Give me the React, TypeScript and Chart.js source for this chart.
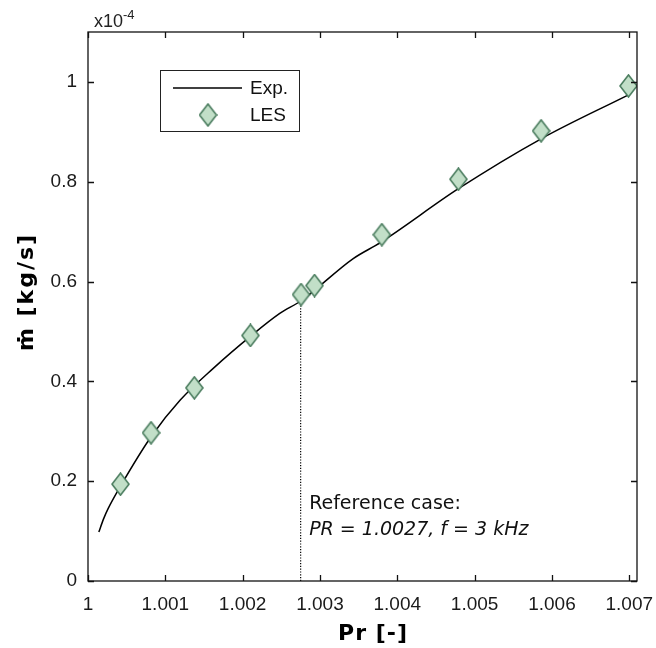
import React, { useEffect, useRef } from "react";
import { Chart, registerables } from "chart.js";

Chart.register(...registerables);

// Experimental curve (Pr [-], mdot [x1e-4 kg/s])
const expPr = [1.00014, 1.0002, 1.00026, 1.00042, 1.00082, 1.00119, 1.00162, 1.0021, 1.00248, 1.00276, 1.00343, 1.00378, 1.00479, 1.00586, 1.00699];
const expMdot = [0.098, 0.124, 0.145, 0.19, 0.29, 0.362, 0.426, 0.49, 0.536, 0.562, 0.646, 0.678, 0.786, 0.886, 0.974];

// LES points
const lesPr = [1.00042, 1.000815, 1.001375, 1.0021, 1.002755, 1.00293, 1.0038, 1.00479, 1.00586, 1.00699];
const lesMdot = [0.194, 0.297, 0.387, 0.492, 0.574, 0.592, 0.694, 0.805, 0.902, 0.992];

// Reference case marker line
const refPr = [1.00275, 1.00275];
const refMdot = [0, 0.56];

// Tick values
const xTickValues = [1, 1.001, 1.002, 1.003, 1.004, 1.005, 1.006, 1.007];
const yTickValues = [0, 0.2, 0.4, 0.6, 0.8, 1.0];

const X_MIN = 1;
const X_MAX = 1.0071;
const Y_MIN = 0;
const Y_MAX = 1.1;

const TICK_FONT = "'Liberation Sans', Arial, sans-serif";
const TEXT_FONT = "'DejaVu Sans', Verdana, sans-serif";

function makeDiamond(): HTMLCanvasElement {
  const c = document.createElement("canvas");
  c.width = 19;
  c.height = 24;
  const g = c.getContext("2d")!;
  g.beginPath();
  g.moveTo(9.5, 1);
  g.lineTo(18, 12);
  g.lineTo(9.5, 23);
  g.lineTo(1, 12);
  g.closePath();
  g.fillStyle = "#c2dfc8";
  g.fill();
  g.lineWidth = 1.6;
  g.strokeStyle = "#4b7d5f";
  g.stroke();
  return c;
}

export default function App() {
  const ref = useRef<HTMLCanvasElement | null>(null);

  useEffect(() => {
    if (!ref.current) return;
    const diamond = makeDiamond();

    const decor = {
      id: "decor",
      afterDatasetsDraw(chart: any) {
        const { ctx, chartArea } = chart;
        const xs = chart.scales.x;
        const ys = chart.scales.y;
        const { left, right, top, bottom } = chartArea;
        ctx.save();
        // box
        ctx.strokeStyle = "#111";
        ctx.lineWidth = 1.3;
        ctx.strokeRect(left, top, right - left, bottom - top);
        // inward ticks
        const tl = 6;
        ctx.beginPath();
        xs.ticks.forEach((t: any) => {
          const px = Math.round(xs.getPixelForValue(t.value)) + 0.5;
          ctx.moveTo(px, bottom);
          ctx.lineTo(px, bottom - tl);
          ctx.moveTo(px, top);
          ctx.lineTo(px, top + tl);
        });
        ys.ticks.forEach((t: any) => {
          const py = Math.round(ys.getPixelForValue(t.value)) + 0.5;
          ctx.moveTo(left, py);
          ctx.lineTo(left + tl, py);
          ctx.moveTo(right, py);
          ctx.lineTo(right - tl, py);
        });
        ctx.stroke();

        // exponent label
        ctx.fillStyle = "#222";
        ctx.textBaseline = "alphabetic";
        ctx.textAlign = "left";
        ctx.font = `18px ${TICK_FONT}`;
        ctx.fillText("x10", left + 6, top - 5);
        const w = ctx.measureText("x10").width;
        ctx.font = `13px ${TICK_FONT}`;
        ctx.fillText("-4", left + 6 + w, top - 13);

        // legend
        const lx = 160, ly = 70, lw = 139, lh = 61;
        ctx.fillStyle = "#fff";
        ctx.fillRect(lx, ly, lw, lh);
        ctx.strokeStyle = "#222";
        ctx.lineWidth = 1;
        ctx.strokeRect(lx + 0.5, ly + 0.5, lw, lh);
        ctx.strokeStyle = "#000";
        ctx.lineWidth = 1.5;
        ctx.beginPath();
        ctx.moveTo(lx + 13, ly + 18);
        ctx.lineTo(lx + 82, ly + 18);
        ctx.stroke();
        ctx.drawImage(diamond, lx + 48 - diamond.width / 2, ly + 45 - diamond.height / 2);
        ctx.fillStyle = "#111";
        ctx.font = `19px ${TICK_FONT}`;
        ctx.textBaseline = "middle";
        ctx.fillText(chart.data.datasets[0].label, lx + 90, ly + 19);
        ctx.fillText(chart.data.datasets[2].label, lx + 90, ly + 46);

        // annotation
        const ax = xs.getPixelForValue(refPr[0]) + 8.5;
        ctx.textBaseline = "alphabetic";
        ctx.fillStyle = "#111";
        ctx.font = `19px ${TEXT_FONT}`;
        ctx.fillText("Reference case:", ax, 509);
        ctx.font = `italic 19px ${TEXT_FONT}`;
        ctx.fillText("PR = 1.0027, f = 3 kHz", ax, 535);

        // axis titles
        ctx.fillStyle = "#000";
        ctx.font = `bold 22px ${TEXT_FONT}`;
        ctx.textAlign = "center";
        ctx.textBaseline = "alphabetic";
        try { (ctx as any).letterSpacing = "1px"; } catch (e) {}
        ctx.fillText("Pr [-]", 373, 640);
        try { (ctx as any).letterSpacing = "2px"; } catch (e) {}
        ctx.translate(33, 292);
        ctx.rotate(-Math.PI / 2);
        ctx.fillText("\u1E41 [kg/s]", 0, 0);
        try { (ctx as any).letterSpacing = "0px"; } catch (e) {}
        ctx.restore();
      },
    };

    const chart = new Chart(ref.current, {
      type: "scatter",
      data: {
        datasets: [
          {
            label: "Exp.",
            data: expPr.map((x, i) => ({ x, y: expMdot[i] })),
            showLine: true,
            borderColor: "#000",
            borderWidth: 1.5,
            pointRadius: 0,
            cubicInterpolationMode: "monotone",
            order: 3,
          },
          {
            label: "ref",
            data: refPr.map((x, i) => ({ x, y: refMdot[i] })),
            showLine: true,
            borderColor: "#000",
            borderWidth: 1.2,
            borderDash: [1.2, 1.6],
            pointRadius: 0,
            order: 2,
          },
          {
            label: "LES",
            data: lesPr.map((x, i) => ({ x, y: lesMdot[i] })),
            pointStyle: diamond as any,
            pointRadius: 10,
            showLine: false,
            order: 1,
          },
        ],
      },
      options: {
        animation: false,
        responsive: false,
        events: [],
        layout: { padding: { left: 0, right: 19, top: 32, bottom: 0 } },
        plugins: { legend: { display: false }, tooltip: { enabled: false } },
        scales: {
          x: {
            type: "linear",
            min: X_MIN,
            max: X_MAX,
            position: "bottom",
            grid: { display: false, drawTicks: false },
            border: { display: false },
            afterBuildTicks: (s: any) => {
              s.ticks = xTickValues.map((v) => ({ value: v }));
            },
            afterFit: (s: any) => {
              s.height = 67;
              s.paddingLeft = 0;
              s.paddingRight = 0;
            },
            ticks: {
              autoSkip: false,
              maxRotation: 0,
              padding: 12,
              color: "#1a1a1a",
              font: { family: TICK_FONT, size: 19 },
              callback: (v: any) => (Math.abs(v - 1) < 1e-9 ? "1" : Number(v).toFixed(3)),
            },
          },
          y: {
            type: "linear",
            min: Y_MIN,
            max: Y_MAX,
            grid: { display: false, drawTicks: false },
            border: { display: false },
            afterBuildTicks: (s: any) => {
              s.ticks = yTickValues.map((v) => ({ value: v }));
            },
            afterFit: (s: any) => {
              s.width = 88;
              s.paddingTop = 0;
              s.paddingBottom = 0;
            },
            ticks: {
              autoSkip: false,
              padding: 11,
              color: "#1a1a1a",
              font: { family: TICK_FONT, size: 19 },
              callback: (v: any) => {
                const n = Number(v);
                if (Math.abs(n) < 1e-9) return "0";
                if (Math.abs(n - 1) < 1e-9) return "1";
                return n.toFixed(1);
              },
            },
          },
        },
      },
      plugins: [decor],
    });
    return () => chart.destroy();
  }, []);

  return (
    <div style={{ position: "absolute", left: 0, top: 0, width: 656, height: 648, background: "#fff" }}>
      <canvas ref={ref} width={656} height={648} style={{ display: "block" }} />
    </div>
  );
}
